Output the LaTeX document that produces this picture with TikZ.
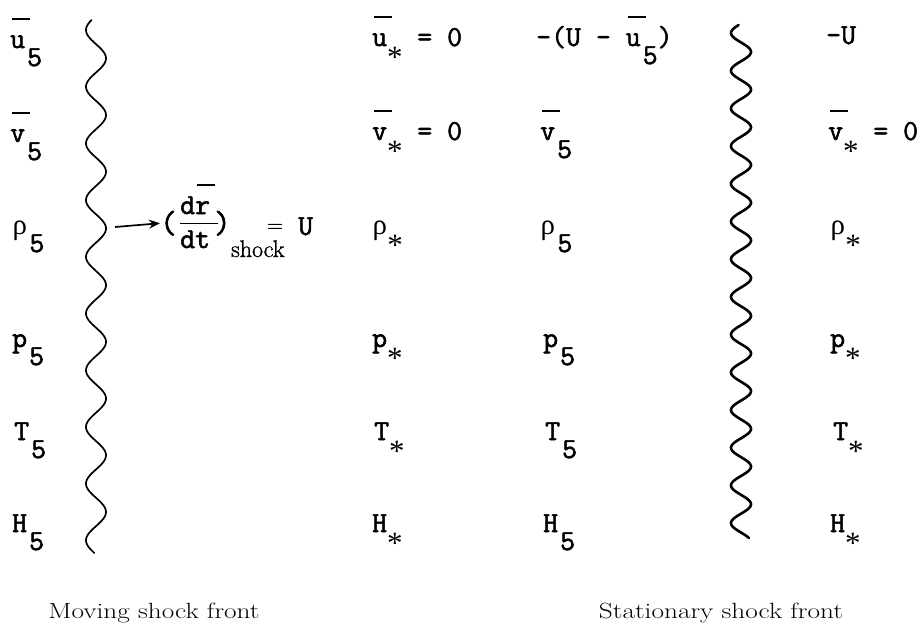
\documentclass[tikz,border=0pt]{standalone}
\usepackage{fontspec}
\newfontfamily\tw{Latin Modern Mono}[FakeBold=1.8]
\newfontfamily\gk{Liberation Serif}
\newfontfamily\sr{Latin Modern Roman}[FakeBold=1.2]
\usetikzlibrary{arrows.meta}
\newcommand\dn[1]{\raisebox{-0.62em}{\hspace{2pt}#1}}
\newcommand\st{\makebox[0.525em]{\raisebox{-21pt}{\gk\fontsize{31}{31}\selectfont *}}}
\newcommand\rh{\makebox[0.525em]{\gk ρ}}
\newcommand\ob[1]{\begingroup\setbox0\hbox{#1}\rlap{\hspace{2pt}\raisebox{0.95em}{\rule{\dimexpr\wd0+3pt\relax}{2.4pt}}}\box0\endgroup}
\tikzset{
  lab/.style={anchor=base west, inner sep=0pt, font=\tw\fontsize{29}{32}\selectfont},
  paren/.style={anchor=base west, inner sep=0pt, font=\tw\fontsize{32}{34}\selectfont},
  wave/.style={line width=1.7pt, line cap=round, line join=round},
  caption/.style={anchor=base, inner sep=0pt, font=\fontsize{22}{26}\selectfont},
  arr/.style={line width=1.7pt, -{Stealth[length=11pt,width=9pt]}},
}
\begin{document}
\begin{tikzpicture}[x=1pt,y=-1pt]
\useasboundingbox (0,0) rectangle (924,625);
% column 1
\node[lab] (u5) at (10,48) {\ob{u}\dn{5}};
\node[lab] (v5) at (10,142) {\ob{v}\dn{5}};
\node[lab] (r5) at (12,234) {\rh\dn{5}};
\node[lab] (p5) at (12,347) {p\dn{5}};
\node[lab] (T5) at (14,440) {T\dn{5}};
\node[lab] (H5) at (12,532) {H\dn{5}};
% moving shock wave
\draw[wave] plot[domain=20:553, samples=400, variable=\t] ({96 - 10*cos((\t-30)*6.349)}, {\t});
% equation
\coordinate (arrS) at (115,227);
\node[paren] (lp) at (160,233) {(};
\node[lab] (num) at (180,214) {d\ob{r}};
\node[lab] (den) at (180,248) {dt};
\draw[line width=0.8pt] (180,223) -- (218,223);
\node[paren] (rp) at (214,233) {)};
\node[anchor=base west, inner sep=0pt, font=\sr\fontsize{24}{25}\selectfont] (shock) at (231,257) {shock};
\node[inner sep=0pt, font=\sr\fontsize{22}{22}\selectfont] (eqs) at (275,228) {=};
\node[lab] (U) at (298,235) {U};
\draw[arr] (arrS) -- (lp.west);
% column 3
\node[lab] (us) at (372,46) {\ob{u}\st{} = 0};
\node[lab] (vs) at (372,140) {\ob{v}\st{} = 0};
\node[lab] (rs) at (372,234) {\rh\st};
\node[lab] (ps) at (372,347) {p\st};
\node[lab] (Ts) at (374,440) {T\st};
\node[lab] (Hs) at (372,532) {H\st};
% column 4
\node[lab] (uu) at (536,46) {-(U - \ob{u}\dn{5})};
\node[lab] (vv) at (540,140) {\ob{v}\dn{5}};
\node[lab] (rr) at (540,234) {\rh\dn{5}};
\node[lab] (pp) at (543,347) {p\dn{5}};
\node[lab] (TT) at (545,440) {T\dn{5}};
\node[lab] (HH) at (543,532) {H\dn{5}};
% stationary shock wave
\draw[wave, line width=2.6pt] plot[domain=25:538, samples=500, variable=\t] ({741 - 10*cos((\t-33)*9.549)}, {\t});
% column 5
\node[lab] (mU) at (826,44) {-U};
\node[lab] (vz) at (828,140) {\ob{v}\st{} = 0};
\node[lab] (rz) at (830,234) {\rh\st};
\node[lab] (pz) at (830,347) {p\st};
\node[lab] (Tz) at (833,440) {T\st};
\node[lab] (Hz) at (830,532) {H\st};
% captions
\node[caption] (mov) at (154,618) {\scalebox{1.24}[1]{Moving shock front}};
\node[caption] (sta) at (721,618) {\scalebox{1.24}[1]{Stationary shock front}};
\end{tikzpicture}
\end{document}
